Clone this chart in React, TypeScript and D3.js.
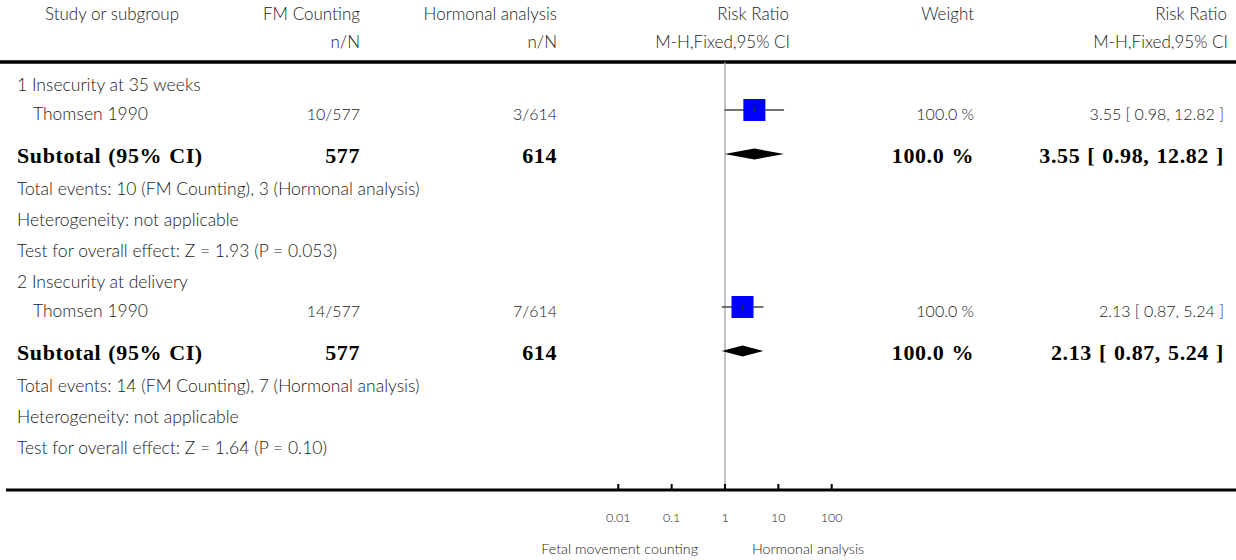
import React from "react";
import * as d3 from "d3";

// subgroup data
const groupTitles = ["1 Insecurity at 35 weeks", "2 Insecurity at delivery"];
const studyNames = ["Thomsen 1990", "Thomsen 1990"];
const fmEvents = [10, 14];
const fmTotals = [577, 577];
const hormEvents = [3, 7];
const hormTotals = [614, 614];
const riskRatios = [3.55, 2.13];
const ciLower = [0.98, 0.87];
const ciUpper = [12.82, 5.24];
const weights = [100.0, 100.0];
const zTests = ["Z = 1.93 (P = 0.053)", "Z = 1.64 (P = 0.10)"];

// axis
const tickValues = [0.01, 0.1, 1, 10, 100];
const tickLabels = ["0.01", "0.1", "1", "10", "100"];
const favourLabels = ["Fetal movement counting", "Hormonal analysis"];

const W = 1236;
const H = 560;
const light = { fontFamily: "Lato, 'Open Sans', sans-serif", fontWeight: 300, fill: "#1a1a1a" };
const bold = {
  fontFamily: "'Liberation Serif', serif",
  fontWeight: 700,
  fill: "#000",
  letterSpacing: "0.6px",
  wordSpacing: "1px",
};

const App = () => {
  const x = d3.scaleLog().domain([0.01, 100]).range([618.3, 831.7]);
  const gy = d3.scaleLinear().domain([0, 1]).range([84, 281]);
  const box = d3.scaleSqrt().domain([0, 100]).range([0, 22]);
  const f2 = d3.format(".2f");
  const f1 = d3.format(".1f");
  const ci = (i: number) => `${f2(riskRatios[i])} [ ${f2(ciLower[i])}, ${f2(ciUpper[i])} ]`;

  const axisY = 490;
  const col = { fm: 360, horm: 557, rr: 790, weight: 974, ci: 1224 };

  return (
    <svg width={W} height={H} style={{ position: "absolute", left: 0, top: 0, background: "#fff" }}>
      {/* header */}
      <g style={light} fontSize={17} dominantBaseline="central">
        <text x={112} y={13} textAnchor="middle">Study or subgroup</text>
        <text x={col.fm} y={13} textAnchor="end">FM Counting</text>
        <text x={col.horm} y={13} textAnchor="end">Hormonal analysis</text>
        <text x={col.rr - 1} y={13} textAnchor="end">Risk Ratio</text>
        <text x={col.weight} y={13} textAnchor="end">Weight</text>
        <text x={col.ci + 3} y={13} textAnchor="end">Risk Ratio</text>
        <text x={col.fm} y={41} textAnchor="end">n/N</text>
        <text x={col.horm} y={41} textAnchor="end">n/N</text>
        <text x={col.rr} y={41} textAnchor="end">M-H,Fixed,95% CI</text>
        <text x={col.ci + 4} y={41} textAnchor="end">M-H,Fixed,95% CI</text>
      </g>
      <line x1={0} x2={W} y1={62} y2={62} stroke="#000" strokeWidth={3.5} />

      {/* reference line at RR = 1 */}
      <line x1={x(1)} x2={x(1)} y1={62} y2={axisY} stroke="#999" strokeWidth={1.2} />

      {groupTitles.map((title, i) => {
        const g = gy(i);
        const sy = g + 26;
        const dy = g + 70;
        const s = box(weights[i]);
        return (
          <g key={i}>
            <g style={light} fontSize={17.5} dominantBaseline="central">
              <text x={17} y={g}>{title}</text>
              <text x={33} y={g + 29}>{studyNames[i]}</text>
              <text x={17} y={g + 104}>
                {`Total events: ${fmEvents[i]} (FM Counting), ${hormEvents[i]} (Hormonal analysis)`}
              </text>
              <text x={17} y={g + 135}>Heterogeneity: not applicable</text>
              <text x={17} y={g + 166}>{`Test for overall effect: ${zTests[i]}`}</text>
            </g>
            <g style={light} fontSize={16} dominantBaseline="central">
              <text x={col.fm} y={g + 29} textAnchor="end">{`${fmEvents[i]}/${fmTotals[i]}`}</text>
              <text x={col.horm} y={g + 29} textAnchor="end">{`${hormEvents[i]}/${hormTotals[i]}`}</text>
              <text x={col.weight} y={g + 29} textAnchor="end">{`${f1(weights[i])} %`}</text>
              <text x={col.ci} y={g + 29} textAnchor="end">{ci(i)}</text>
            </g>
            <g style={bold} fontSize={22} dominantBaseline="central">
              <text x={17} y={g + 71}>Subtotal (95% CI)</text>
              <text x={col.fm} y={g + 71} textAnchor="end">{fmTotals[i]}</text>
              <text x={col.horm} y={g + 71} textAnchor="end">{hormTotals[i]}</text>
              <text x={col.weight} y={g + 71} textAnchor="end">{`${f1(weights[i])} %`}</text>
              <text x={col.ci} y={g + 71} textAnchor="end">{ci(i)}</text>
            </g>

            {/* study estimate */}
            <line x1={x(ciLower[i])} x2={x(ciUpper[i])} y1={sy} y2={sy} stroke="#444" strokeWidth={1.4} />
            <rect x={x(riskRatios[i]) - s / 2} y={sy - s / 2} width={s} height={s} fill="#0000ff" />
            <line x1={x(riskRatios[i])} x2={x(riskRatios[i])} y1={sy - 2} y2={sy + 2} stroke="#333" strokeWidth={1} />

            {/* subtotal diamond */}
            <polygon
              points={[
                [x(ciLower[i]), dy],
                [x(riskRatios[i]), dy - 5.5],
                [x(ciUpper[i]), dy],
                [x(riskRatios[i]), dy + 5.5],
              ].map((p) => p.join(",")).join(" ")}
              fill="#000"
            />
          </g>
        );
      })}

      {/* axis */}
      <line x1={6} x2={W} y1={axisY} y2={axisY} stroke="#000" strokeWidth={3.2} />
      {tickValues.map((v, i) => (
        <g key={v}>
          <rect x={x(v) - 1} y={axisY - 6} width={2} height={6} fill="#000" />
          <text x={x(v)} y={axisY + 27} textAnchor="middle" dominantBaseline="central" style={light} fontSize={12.5}>
            {tickLabels[i]}
          </text>
        </g>
      ))}
      <text x={x(1) - 27} y={axisY + 58} textAnchor="end" dominantBaseline="central" style={light} fontSize={14.3}>
        {favourLabels[0]}
      </text>
      <text x={x(1) + 27} y={axisY + 58} textAnchor="start" dominantBaseline="central" style={light} fontSize={14.3}>
        {favourLabels[1]}
      </text>
    </svg>
  );
};

export default App;
